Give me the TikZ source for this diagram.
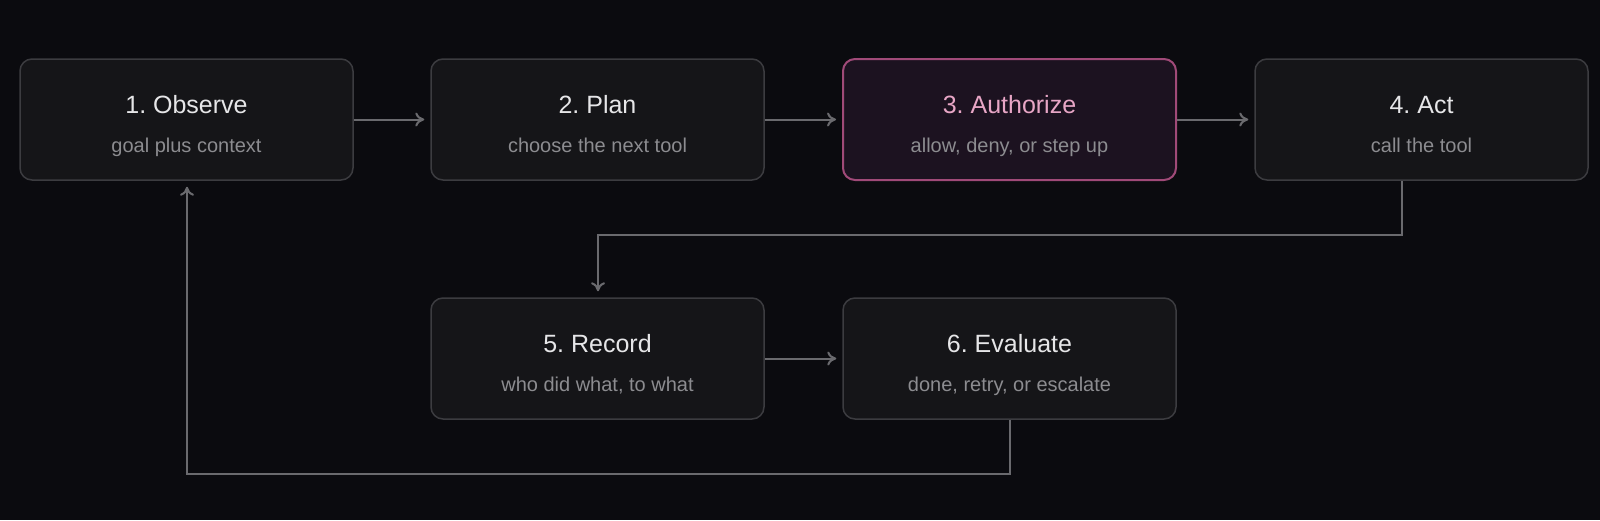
\documentclass[tikz,border=0pt]{standalone}
\usepackage{fontspec}
\setmainfont{Liberation Sans}
\usetikzlibrary{arrows.meta}
\definecolor{bg}{HTML}{0B0B0F}
\definecolor{boxfill}{HTML}{151518}
\definecolor{boxline}{HTML}{3C3C40}
\definecolor{hlfill}{HTML}{1C1220}
\definecolor{hlline}{HTML}{A04A78}
\definecolor{title}{HTML}{E6E6E8}
\definecolor{sub}{HTML}{8C8C90}
\definecolor{hltitle}{HTML}{E8A6C6}
\definecolor{arrow}{HTML}{6A6A6E}
\begin{document}
\frenchspacing
\begin{tikzpicture}[x=1pt,y=-1pt,
  box/.style={draw=boxline,fill=boxfill,line width=1.5pt,rounded corners=12pt,minimum width=333pt,minimum height=121pt,inner sep=0pt},
  hl/.style={box,draw=hlline,fill=hlfill,line width=2pt},
  ttl/.style={text=title,anchor=base,font=\fontsize{25}{30}\selectfont},
  sbt/.style={text=sub,anchor=base,font=\fontsize{20}{24}\selectfont},
  conn/.style={draw=arrow,line width=2pt,-{To[length=9pt,width=14pt]}}]
\fill[bg] (0,0) rectangle (1600,520);
\useasboundingbox (0,0) rectangle (1600,520);
\node[box] (obs) at (186.5,119.5) {};
\node[box] (plan) at (597.5,119.5) {};
\node[hl] (auth) at (1009.5,119.5) {};
\node[box] (act) at (1421.5,119.5) {};
\node[box] (rec) at (597.5,358.5) {};
\node[box] (eval) at (1009.5,358.5) {};
\foreach \n/\t/\s in {obs/1. Observe/goal plus context, plan/2. Plan/choose the next tool, act/4. Act/call the tool, rec/5. Record/{who did what, to what}, eval/6. Evaluate/{done, retry, or escalate}}{
  \node[ttl] (\n t) at ([yshift=6.5pt]\n.center) {\t};
  \node[sbt] (\n s) at ([yshift=-32.5pt]\n.center) {\s};
}
\node[ttl,text=hltitle] (autht) at ([yshift=6.5pt]auth.center) {3. Authorize};
\node[sbt] (auths) at ([yshift=-32.5pt]auth.center) {allow, deny, or step up};
\draw[conn] (obs.east) -- ([xshift=-6pt]plan.west);
\draw[conn] (plan.east) -- ([xshift=-6pt]auth.west);
\draw[conn] (auth.east) -- ([xshift=-6pt]act.west);
\draw[conn] (rec.east) -- ([xshift=-6pt]eval.west);
\coordinate (a1) at (1402,235);
\coordinate (a2) at (598,235);
\draw[conn] (act.south -| a1) -- (a1) -- (a2) -- ([yshift=6pt]rec.north -| a2);
\coordinate (b1) at (1010,474);
\coordinate (b2) at (187,474);
\draw[conn] (eval.south -| b1) -- (b1) -- (b2) -- ([yshift=-6pt]obs.south -| b2);
\end{tikzpicture}
\end{document}
